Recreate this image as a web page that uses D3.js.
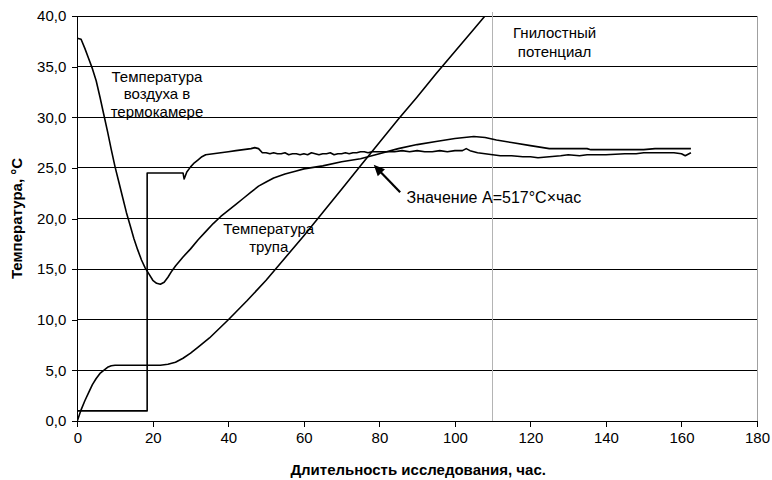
<!DOCTYPE html>
<html>
<head>
<meta charset="utf-8">
<script src="https://cdn.jsdelivr.net/npm/d3@7"></script>
<style>
  body { margin: 0; background: #fff; }
  svg { display: block; font-family: "Liberation Sans", Arial, sans-serif; }
</style>
</head>
<body>
<div id="chart"></div>
<script>
// ---- data (hours, °C) ----
var xTicks = [0, 20, 40, 60, 80, 100, 120, 140, 160, 180];
var yTicks = [0, 5, 10, 15, 20, 25, 30, 35, 40];

// body temperature: cooling from 37.8 then warming in the chamber
var bodyHours = [0, 1, 2, 3, 4, 5, 6, 7, 8, 9, 10, 11, 12, 13, 14, 15, 16, 17, 18, 19, 20, 21, 22, 23, 24, 25, 26, 28, 30, 32, 34, 36, 38, 40, 42, 44, 46, 48, 50, 52, 55, 58, 60, 65, 70, 75, 80, 85, 90, 95, 100, 105, 108, 111, 115, 120, 125, 130, 135, 136, 145, 150, 153, 162.5];
var bodyTemp = [37.8, 37.7, 36.8, 35.8, 34.8, 33.6, 32.0, 30.3, 28.6, 26.8, 25.1, 23.6, 22.1, 20.6, 19.3, 18.0, 16.9, 15.9, 15.1, 14.5, 13.9, 13.6, 13.5, 13.7, 14.2, 14.8, 15.3, 16.2, 17.0, 17.9, 18.7, 19.5, 20.2, 20.8, 21.4, 22.0, 22.6, 23.2, 23.6, 24.0, 24.4, 24.7, 24.9, 25.2, 25.6, 25.9, 26.4, 26.9, 27.3, 27.6, 27.9, 28.1, 28.0, 27.75, 27.5, 27.2, 26.9, 26.9, 26.9, 26.8, 26.8, 26.8, 26.9, 26.9];

// chamber air temperature
var airHours = [0, 18.5, 18.5, 28, 28.3, 29, 30, 31, 32, 33, 34, 36, 38, 40, 42, 44, 46, 47, 48, 49, 50, 51, 52, 53, 54, 55, 56, 57, 58, 59, 60, 61, 62, 63, 64, 65, 66, 67, 68, 69, 70, 71, 72, 73, 74, 75, 76, 77, 78, 80, 82, 84, 86, 88, 90, 92, 94, 96, 98, 100, 102, 103, 104, 106, 108, 110, 112, 115, 118, 120, 122, 125, 128, 130, 133, 135, 140, 145, 148, 150, 152, 155, 158, 160, 160.5, 161, 162, 162.5];
var airTemp = [1.0, 1.0, 24.5, 24.5, 23.9, 24.6, 25.1, 25.5, 25.8, 26.1, 26.3, 26.4, 26.5, 26.6, 26.7, 26.8, 26.9, 27.0, 26.9, 26.5, 26.5, 26.4, 26.5, 26.4, 26.4, 26.5, 26.3, 26.4, 26.4, 26.3, 26.4, 26.3, 26.5, 26.4, 26.3, 26.4, 26.4, 26.5, 26.3, 26.4, 26.4, 26.5, 26.4, 26.5, 26.5, 26.6, 26.6, 26.5, 26.6, 26.6, 26.6, 26.6, 26.7, 26.6, 26.7, 26.6, 26.6, 26.7, 26.6, 26.7, 26.7, 26.9, 26.7, 26.5, 26.4, 26.3, 26.2, 26.2, 26.1, 26.1, 26.0, 26.1, 26.2, 26.3, 26.2, 26.3, 26.3, 26.4, 26.4, 26.5, 26.5, 26.5, 26.5, 26.4, 26.3, 26.2, 26.4, 26.5];

// putrefactive potential
var potHours = [0, 1, 2, 3, 4, 5, 6, 7, 8, 9, 10, 22, 24, 26, 28, 30, 32, 35, 40, 45, 50, 55, 60, 65, 70, 75, 80, 85, 90, 95, 100, 105, 110];
var potValue = [0, 1.1, 2.0, 2.8, 3.6, 4.2, 4.7, 5.0, 5.3, 5.45, 5.5, 5.5, 5.6, 5.8, 6.2, 6.7, 7.3, 8.2, 10.0, 11.9, 13.9, 16.1, 18.3, 20.6, 22.9, 25.2, 27.5, 29.8, 32.0, 34.3, 36.5, 38.7, 40.9];

var markerHour = 110;

var W = 772, H = 480;
var x = d3.scaleLinear().domain([0, 180]).range([77.3, 757]);
var y = d3.scaleLinear().domain([0, 40]).range([421, 16]);

var svg = d3.select('#chart').append('svg')
  .attr('width', W).attr('height', H);

svg.append('rect').attr('width', W).attr('height', H).attr('fill', '#fff');

svg.append('defs').append('clipPath').attr('id', 'plot')
  .append('rect')
  .attr('x', x(0)).attr('y', y(40))
  .attr('width', x(180) - x(0)).attr('height', y(0) - y(40));

// gridlines
svg.append('g').selectAll('line').data(yTicks.filter(function(d){ return d > 0; })).enter()
  .append('line')
  .attr('x1', x(0)).attr('x2', x(180))
  .attr('y1', function(d){ return y(d); }).attr('y2', function(d){ return y(d); })
  .attr('stroke', '#000').attr('stroke-width', 1)
  .attr('shape-rendering', 'crispEdges');

// right border of plot
svg.append('line')
  .attr('x1', x(180)).attr('x2', x(180)).attr('y1', y(40)).attr('y2', y(0))
  .attr('stroke', '#a0a0a0').attr('shape-rendering', 'crispEdges');

// vertical marker line
svg.append('line')
  .attr('x1', x(markerHour)).attr('x2', x(markerHour))
  .attr('y1', y(40) - 4).attr('y2', y(0))
  .attr('stroke', '#b4b4b4').attr('shape-rendering', 'crispEdges');

// axes
var xAxis = svg.append('g')
  .attr('transform', 'translate(0,' + y(0) + ')')
  .call(d3.axisBottom(x).tickValues(xTicks).tickSize(6).tickPadding(5).tickSizeOuter(0));
var yAxis = svg.append('g')
  .attr('transform', 'translate(' + x(0) + ',0)')
  .call(d3.axisLeft(y).tickValues(yTicks).tickSize(5).tickPadding(6).tickSizeOuter(0)
    .tickFormat(function(d){ return d.toFixed(1).replace('.', ','); }));

[xAxis, yAxis].forEach(function(a){
  a.selectAll('path, line').attr('stroke', '#000').attr('shape-rendering', 'crispEdges');
  a.selectAll('text').attr('fill', '#000')
    .style('font-size', '15px').style('font-family', '"Liberation Sans", Arial, sans-serif');
});

// series
function series(hours, vals) {
  return hours.map(function(h, i){ return [h, vals[i]]; });
}
var line = d3.line()
  .x(function(d){ return x(d[0]); })
  .y(function(d){ return y(d[1]); });

var lines = svg.append('g').attr('clip-path', 'url(#plot)');
[series(bodyHours, bodyTemp), series(airHours, airTemp), series(potHours, potValue)]
  .forEach(function(s){
    lines.append('path').datum(s)
      .attr('d', line)
      .attr('fill', 'none')
      .attr('stroke', '#000')
      .attr('stroke-width', 1.6)
      .attr('stroke-linejoin', 'round');
  });

// annotations
function label(lines, h, v, anchor, size, gap) {
  var t = svg.append('text')
    .attr('x', x(h)).attr('y', y(v))
    .attr('text-anchor', anchor)
    .style('font-size', size + 'px')
    .attr('fill', '#000');
  lines.forEach(function(s, i){
    t.append('tspan').attr('x', x(h)).attr('dy', i === 0 ? 0 : gap).text(s);
  });
}
label(['Температура', 'воздуха в', 'термокамере'], 21.1, 33.5, 'middle', 15, 17.5);
label(['Температура', 'трупа'], 50.7, 18.5, 'middle', 15, 18.5);
label(['Гнилостный', 'потенциал'], 126.4, 37.8, 'middle', 15, 19);
label(['Значение A=517°C×час'], 87.2, 21.5, 'start', 16, 0);

// arrow
var tip = [78.5, 25.3], tail = [85.5, 22.6];
var ax1 = x(tip[0]), ay1 = y(tip[1]), ax2 = x(tail[0]), ay2 = y(tail[1]);
var ang = Math.atan2(ay1 - ay2, ax1 - ax2);
var hl = 11, hw = 5;
svg.append('line')
  .attr('x1', ax2).attr('y1', ay2)
  .attr('x2', ax1 - Math.cos(ang) * hl * 0.8).attr('y2', ay1 - Math.sin(ang) * hl * 0.8)
  .attr('stroke', '#000').attr('stroke-width', 2.2);
svg.append('path')
  .attr('d', 'M' + ax1 + ',' + ay1 +
    'L' + (ax1 - Math.cos(ang) * hl - Math.sin(ang) * hw) + ',' + (ay1 - Math.sin(ang) * hl + Math.cos(ang) * hw) +
    'L' + (ax1 - Math.cos(ang) * hl + Math.sin(ang) * hw) + ',' + (ay1 - Math.sin(ang) * hl - Math.cos(ang) * hw) + 'Z')
  .attr('fill', '#000');

// axis titles
svg.append('text')
  .attr('transform', 'translate(22,' + ((y(0) + y(40)) / 2) + ') rotate(-90)')
  .attr('text-anchor', 'middle')
  .style('font-size', '15px').style('font-weight', 'bold')
  .text('Температура, °C');
svg.append('text')
  .attr('x', (x(0) + x(180)) / 2 + 1).attr('y', 475)
  .attr('text-anchor', 'middle')
  .style('font-size', '15px').style('font-weight', 'bold')
  .text('Длительность исследования, час.');
</script>
</body>
</html>
